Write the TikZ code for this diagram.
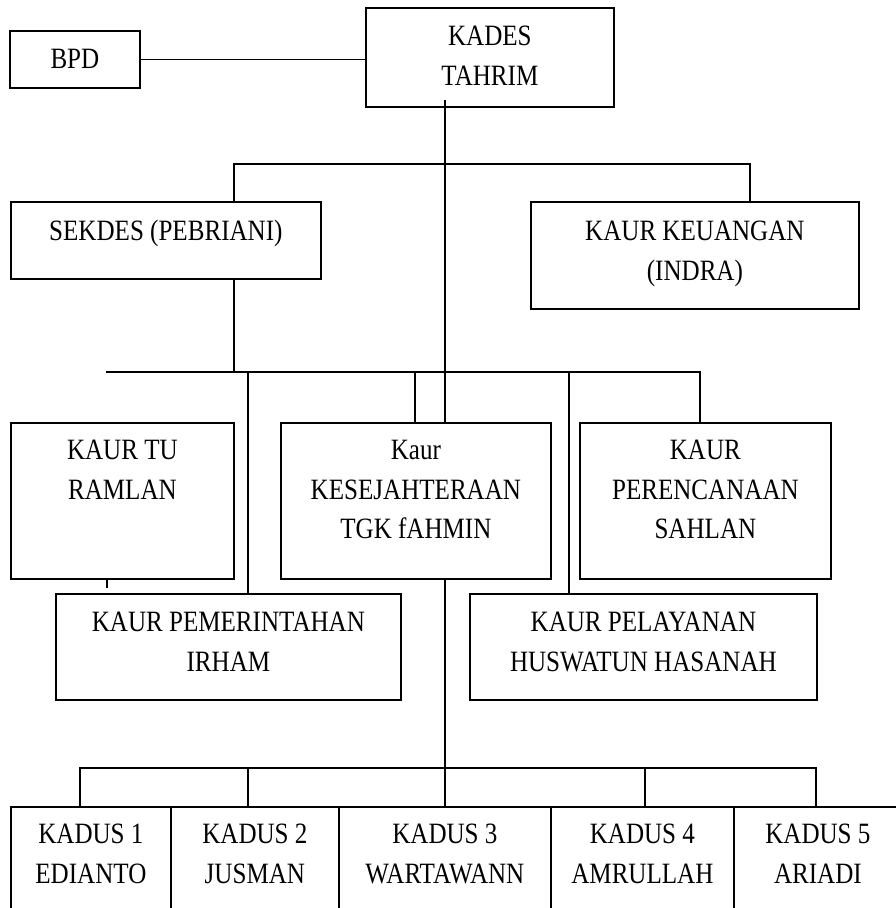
\documentclass[tikz,border=0pt]{standalone}
\usepackage{fontspec}
\setmainfont{Liberation Serif}[FakeStretch=0.85]
\newcommand\boxtext[4]{\parbox[c][#2][t]{#1}{\centering\rule{0pt}{#3}#4\par}}
\begin{document}
\begin{tikzpicture}[x=1pt,y=-1pt,
  bx/.style={draw=black, line width=1.8pt, inner sep=0pt, anchor=north west,
    font=\fontsize{29.5}{39.5}\selectfont},
  conn/.style={draw=black, line width=1.4pt}]
\useasboundingbox (0,0) rectangle (896,908);
\clip (0,0) rectangle (896,908);
\fill[white] (0,0) rectangle (896,908);
% boxes
\node[bx] (bpd) at (9,30) {\boxtext{130pt}{57pt}{38pt}{BPD}};
\node[bx] (kades) at (365,7) {\boxtext{248pt}{99pt}{38pt}{KADES\\TAHRIM}};
\node[bx] (sekdes) at (10,201) {\boxtext{310pt}{77pt}{39pt}{SEKDES (PEBRIANI)}};
\node[bx] (keu) at (530,201) {\boxtext{328pt}{107pt}{39pt}{KAUR KEUANGAN\\(INDRA)}};
\node[bx] (tu) at (10,422) {\boxtext{223pt}{156pt}{37pt}{KAUR TU\\RAMLAN}};
\node[bx] (kesej) at (280,422) {\boxtext{270pt}{156pt}{37pt}{Kaur\\KESEJAHTERAAN\\TGK fAHMIN}};
\node[bx] (peren) at (579,422) {\boxtext{251pt}{156pt}{37pt}{KAUR\\PERENCANAAN\\SAHLAN}};
\node[bx] (pemer) at (55,593) {\boxtext{345pt}{106pt}{38pt}{KAUR PEMERINTAHAN\\IRHAM}};
\node[bx] (pelay) at (469,593) {\boxtext{347pt}{106pt}{38pt}{KAUR PELAYANAN\\HUSWATUN HASANAH}};
\node[bx] (kadus1) at (10,806) {\boxtext{160pt}{124pt}{37pt}{KADUS 1\\EDIANTO}};
\node[bx] (kadus2) at (170,806) {\boxtext{168pt}{124pt}{37pt}{KADUS 2\\JUSMAN}};
\node[bx] (kadus3) at (338,806) {\boxtext{212pt}{124pt}{37pt}{KADUS 3\\WARTAWANN}};
\node[bx] (kadus4) at (550,806) {\boxtext{183pt}{124pt}{37pt}{KADUS 4\\AMRULLAH}};
\node[bx] (kadus5) at (733,806) {\boxtext{168pt}{124pt}{37pt}{KADUS 5\\ARIADI}};
% junction coordinates
\coordinate (sp) at (445,100);
\coordinate (t1) at (234,164);
\coordinate (t2) at (750,164);
\coordinate (m0) at (106,372);
\coordinate (m1) at (248,372);
\coordinate (m2) at (415,372);
\coordinate (m4) at (569,372);
\coordinate (m5) at (700,372);
\coordinate (tk) at (107,588);
\coordinate (d1) at (80,768);
\coordinate (d2) at (248,768);
\coordinate (d4) at (645,768);
\coordinate (d5) at (816,768);
% connectors
\draw[conn] (bpd.east) -- (kades.west |- bpd.east);
\draw[conn] (sp) -- (sp |- kesej.north);
\draw[conn] (t1 |- sekdes.north) -- (t1) -- (t2) -- (t2 |- keu.north);
\draw[conn] (t1 |- sekdes.south) -- (t1 |- m0);
\draw[conn] (m0) -- (m5) -- (m5 |- peren.north);
\draw[conn] (m1) -- (m1 |- pemer.north);
\draw[conn] (m2) -- (m2 |- kesej.north);
\draw[conn] (m4) -- (m4 |- pelay.north);
\draw[conn] (tk |- tu.south) -- (tk);
\draw[conn] (sp |- kesej.south) -- (sp |- kadus3.north);
\draw[conn] (d1 |- kadus1.north) -- (d1) -- (d5) -- ([yshift=-2pt]d5 |- kadus5.north);
\draw[conn] (d2) -- (d2 |- kadus2.north);
\draw[conn] (d4) -- (d4 |- kadus4.north);
\end{tikzpicture}
\end{document}
